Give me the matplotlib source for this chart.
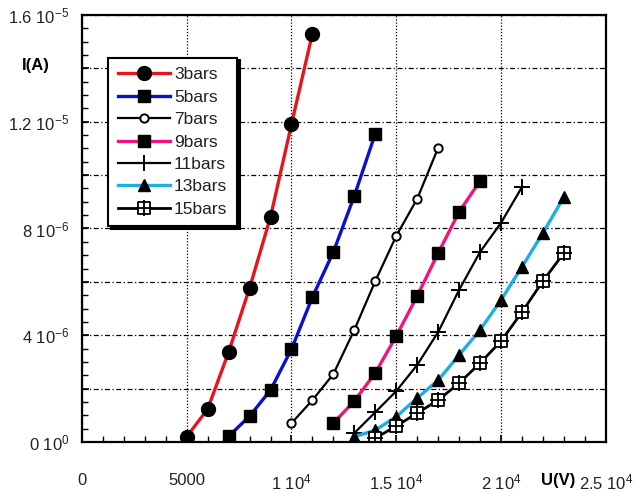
import numpy as np
import matplotlib
matplotlib.use("Agg")
import matplotlib.pyplot as plt
from matplotlib.path import Path
from matplotlib.ticker import MultipleLocator, FuncFormatter

plt.rcParams['font.family'] = ['Liberation Sans', 'DejaVu Sans']
plt.rcParams['mathtext.default'] = 'regular'

# voltage (V) and current (A) for each pressure
u_3 = [5000, 6000, 7000, 8000, 9000, 10000, 11000]
i_3 = [0.2, 1.24, 3.37, 5.77, 8.43, 11.9, 15.3]

u_5 = [7000, 8000, 9000, 10000, 11000, 12000, 13000, 14000]
i_5 = [0.22, 0.97, 1.95, 3.48, 5.43, 7.12, 9.22, 11.55]

u_7 = [10000, 11000, 12000, 13000, 14000, 15000, 16000, 17000]
i_7 = [0.71, 1.57, 2.55, 4.2, 6.03, 7.72, 9.11, 11.02]

u_9 = [12000, 13000, 14000, 15000, 16000, 17000, 18000, 19000]
i_9 = [0.71, 1.54, 2.59, 3.97, 5.47, 7.08, 8.62, 9.78]

u_11 = [13000, 14000, 15000, 16000, 17000, 18000, 19000, 20000, 21000]
i_11 = [0.34, 1.12, 1.91, 2.89, 4.12, 5.7, 7.12, 8.21, 9.55]

u_13 = [13000, 14000, 15000, 16000, 17000, 18000, 19000, 20000, 21000, 22000, 23000]
i_13 = [0.2, 0.45, 0.95, 1.65, 2.32, 3.26, 4.2, 5.32, 6.56, 7.83, 9.18]

u_15 = [14000, 15000, 16000, 17000, 18000, 19000, 20000, 21000, 22000, 23000]
i_15 = [0.15, 0.6, 1.09, 1.57, 2.21, 2.96, 3.78, 4.87, 6.03, 7.08]

labels = ["3bars", "5bars", "7bars", "9bars", "11bars", "13bars", "15bars"]

# boxed cross marker
box_verts = [(-1, -1), (1, -1), (1, 1), (-1, 1), (-1, -1),
             (0, -1.3), (0, 1.3), (-1.3, 0), (1.3, 0)]
box_codes = [Path.MOVETO, Path.LINETO, Path.LINETO, Path.LINETO, Path.CLOSEPOLY,
             Path.MOVETO, Path.LINETO, Path.MOVETO, Path.LINETO]
box_cross = Path(box_verts, box_codes)

fig = plt.figure(figsize=(6.35, 4.94), dpi=100)
ax = fig.add_axes([0.129, 0.105, 0.825, 0.865])

sc = 1e-6
ax.plot(u_3, np.array(i_3) * sc, '-o', color='#e8141c', lw=2.4, ms=10,
        mfc='k', mec='k', label=labels[0])
ax.plot(u_5, np.array(i_5) * sc, '-s', color='#0a10d0', lw=2.4, ms=9,
        mfc='k', mec='k', label=labels[1])
ax.plot(u_7, np.array(i_7) * sc, '-o', color='k', lw=1.6, ms=6,
        mfc='white', mec='k', mew=1.4, label=labels[2])
ax.plot(u_9, np.array(i_9) * sc, '-s', color='#f0147c', lw=2.4, ms=9,
        mfc='k', mec='k', label=labels[3])
ax.plot(u_11, np.array(i_11) * sc, '-+', color='k', lw=1.6, ms=12,
        mew=1.4, label=labels[4])
ax.plot(u_13, np.array(i_13) * sc, '-^', color='#1eaee6', lw=2.4, ms=8,
        mfc='k', mec='k', label=labels[5])
ax.plot(u_15, np.array(i_15) * sc, '-', marker=box_cross, color='k', lw=2.0,
        ms=11, mfc='white', mec='k', mew=1.3, label=labels[6])

ax.set_xlim(0, 25000)
ax.set_ylim(0, 1.6e-5)

ax.xaxis.set_major_locator(MultipleLocator(5000))
ax.xaxis.set_minor_locator(MultipleLocator(1000))
ax.yaxis.set_major_locator(MultipleLocator(2e-6))
ax.yaxis.set_minor_locator(MultipleLocator(0.5e-6))


def fmt_x(v, pos):
    v = int(round(v))
    if v == 0:
        return "0"
    if v == 5000:
        return "5000"
    return "%g 10$^{4}$" % (v / 1e4)


def fmt_y(v, pos):
    n = int(round(v / 1e-6))
    if n % 4:
        return ""
    if n == 0:
        return "0 10$^{0}$"
    if n < 10:
        return "%d 10$^{-6}$" % n
    return "%g 10$^{-5}$" % (n / 10)


ax.xaxis.set_major_formatter(FuncFormatter(fmt_x))
ax.yaxis.set_major_formatter(FuncFormatter(fmt_y))

ax.tick_params(which='both', direction='in', top=False, right=False,
               colors='k', labelsize=12)
ax.tick_params(axis='x', which='major', length=5, width=1.2, pad=22)
ax.tick_params(axis='y', which='major', length=5, width=1.2, pad=9)
ax.tick_params(which='minor', length=4, width=1.0)
for lab in ax.get_xticklabels() + ax.get_yticklabels():
    lab.set_color('#222222')

for s in ax.spines.values():
    s.set_linewidth(1.6)

ax.grid(True, axis='y', which='major', color='k', lw=0.9, ls=(0, (4, 2, 1, 2)))
ax.grid(True, axis='x', which='major', color='k', lw=0.9, ls=(0, (1, 1.5)))
ax.set_axisbelow(True)

fig.text(0.057, 0.868, "I(A)", fontsize=12, fontweight='bold', ha='center', va='center')
fig.text(0.879, 0.028, "U(V)", fontsize=12, fontweight='bold', ha='center', va='center')

leg = ax.legend(loc='upper left', bbox_to_anchor=(0.05, 0.9), fontsize=12.5,
                frameon=True, fancybox=False, edgecolor='k', framealpha=1,
                shadow={'color': 'k', 'alpha': 1}, handlelength=3.0,
                handletextpad=0.25, labelspacing=0.42, borderpad=0.55,
                borderaxespad=0)
leg.get_frame().set_linewidth(1.5)
for t in leg.get_texts():
    t.set_color('#222222')

fig.savefig("out.png", dpi=100)
